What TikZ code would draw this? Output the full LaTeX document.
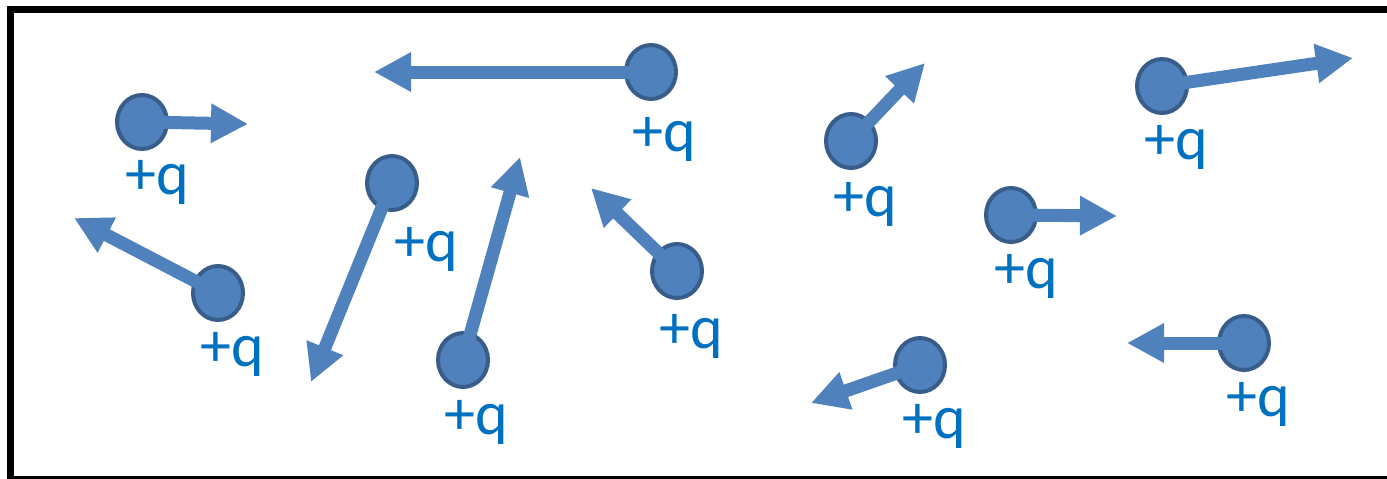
\documentclass[tikz,border=0pt]{standalone}
\usepackage{fontspec}
\setmainfont{Carlito}
\usetikzlibrary{arrows.meta,shapes.geometric}
\definecolor{chargefill}{HTML}{4F81BD}
\definecolor{chargeline}{HTML}{385D8A}
\definecolor{labelblue}{HTML}{0070C0}
\tikzset{
  charge/.style={ellipse, minimum width=50pt, minimum height=54pt, inner sep=0pt,
    fill=chargefill, draw=chargeline, line width=4pt},
  force/.style={draw=chargefill, line width=13pt,
    -{Triangle[length=37pt,width=37pt]}},
  qlabel/.style={anchor=base west, inner sep=0pt, text=labelblue,
    font=\fontsize{62}{74}\selectfont},
  frame/.style={draw=black, line width=7pt}
}
\begin{document}
\begin{tikzpicture}[x=1pt,y=-1pt]
\useasboundingbox (0,0) rectangle (1387,479);
\clip (0,0) rectangle (1387,479);
\fill[white] (0,0) rectangle (1387,479);
\draw[frame] (10.5,9.5) rectangle (1400,479.5);
% charges
\node[charge] (A) at (142,122) {};
\node[charge] (B) at (651,72) {};
\node[charge] (C) at (218,293) {};
\node[charge] (D) at (392,183) {};
\node[charge] (E) at (463,360) {};
\node[charge] (F) at (677,271) {};
\node[charge] (G) at (851,141) {};
\node[charge] (H) at (920,365) {};
\node[charge] (I) at (1011,215) {};
\node[charge] (J) at (1162,86) {};
\node[charge] (K) at (1244,343) {};
% arrow tips
\coordinate (tA) at (248,124);
\coordinate (tB) at (374,72);
\coordinate (tC) at (74,218);
\coordinate (tD) at (311,382);
\coordinate (tE) at (520,157);
\coordinate (tF) at (591,188);
\coordinate (tG) at (925,63);
\coordinate (tH) at (811,403);
\coordinate (tI) at (1117,216);
\coordinate (tJ) at (1353,58);
\coordinate (tK) at (1127,343);
\foreach \n in {A,B,C,D,E,F,G,H,I,J,K}{
  \draw[force] (\n.center) -- (t\n);
}
% labels
\node[qlabel] (lA) at (125,194) {+q};
\node[qlabel] (lB) at (632,151) {+q};
\node[qlabel] (lC) at (200,366) {+q};
\node[qlabel] (lD) at (394,261) {+q};
\node[qlabel] (lE) at (444,434) {+q};
\node[qlabel] (lF) at (659,348) {+q};
\node[qlabel] (lG) at (833,216) {+q};
\node[qlabel] (lH) at (902,438) {+q};
\node[qlabel] (lI) at (994,288) {+q};
\node[qlabel] (lJ) at (1144,159) {+q};
\node[qlabel] (lK) at (1226,416) {+q};
\end{tikzpicture}
\end{document}
